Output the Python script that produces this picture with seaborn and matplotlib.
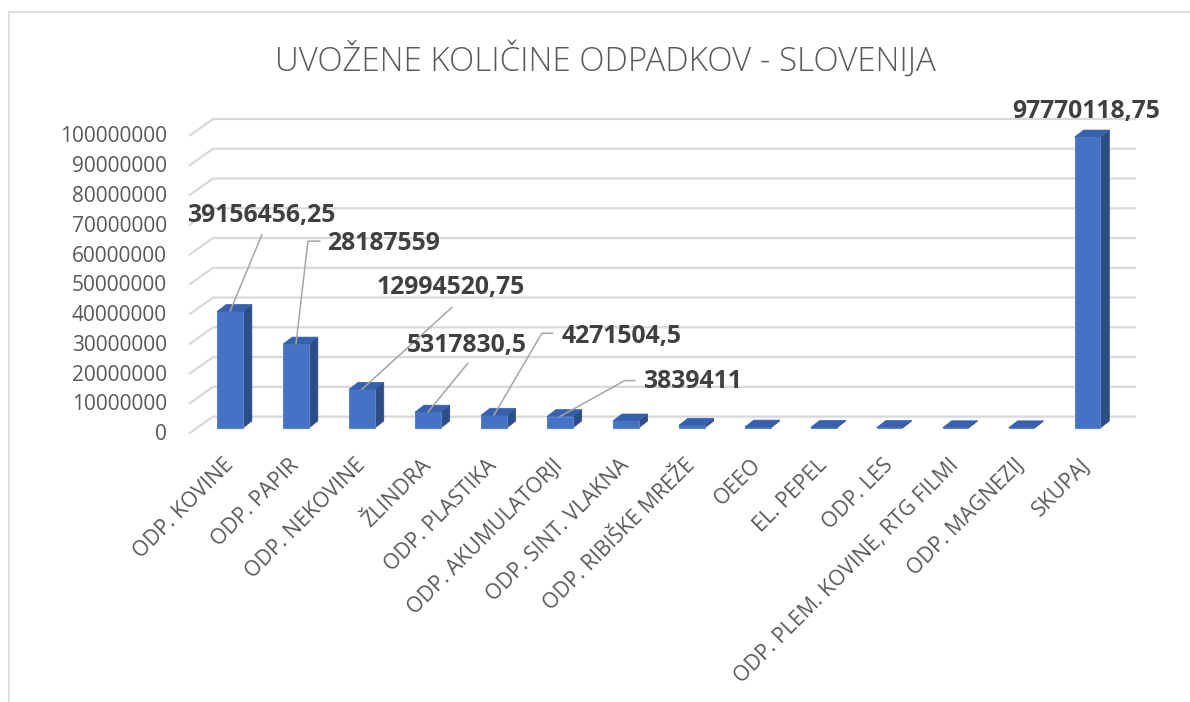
import matplotlib
matplotlib.use('Agg')
import matplotlib.pyplot as plt
import seaborn as sns
from matplotlib.patches import Polygon, Rectangle

# Data
categories = ['ODP. KOVINE', 'ODP. PAPIR', 'ODP. NEKOVINE', 'ŽLINDRA', 'ODP. PLASTIKA',
              'ODP. AKUMULATORJI', 'ODP. SINT. VLAKNA', 'ODP. RIBIŠKE MREŽE', 'OEEO',
              'EL. PEPEL', 'ODP. LES', 'ODP. PLEM. KOVINE, RTG FILMI', 'ODP. MAGNEZIJ', 'SKUPAJ']
values = [39156456.25, 28187559, 12994520.75, 5317830.5, 4271504.5, 3839411,
          2350000, 900000, 300000, 200000, 130000, 70000, 52836.75, 97770118.75]
tick_values = list(range(0, 100000001, 10000000))
title = 'UVOŽENE KOLIČINE ODPADKOV - SLOVENIJA'

# which bars get a data label: index -> text offset (px) and leader points (px)
label_layout = {
    0: ((31, 96), [(0, 0), (32, 77)]),
    1: ((88, 101), [(0, 0), (12, 103), (24, 103)]),
    2: ((89, 102), [(0, 0), (90, 82)]),
    3: ((39, 67), [(0, 0), (40, 49)]),
    4: ((128, 79), [(0, 0), (48, 82), (59, 82)]),
    5: ((133, 35), [(0, 0), (65, 36), (75, 36)]),
    13: ((-1, 26), None),
}

FRONT = '#4472C4'
SIDE = '#2C4D86'
TOP = '#3761AD'
GRID = '#D9D9D9'
TXT = '#595959'

sns.set_style('white')
plt.rcParams['font.family'] = ['Open Sans', 'DejaVu Sans']

W, H = 1190, 702
fig = plt.figure(figsize=(W / 100, H / 100), dpi=100)
L, R, T, B = 180, 1150, 100, 440
ax = fig.add_axes([L / W, 1 - B / H, (R - L) / W, (B - T) / H])

sns.barplot(x=categories, y=values, color=FRONT, saturation=1, width=0.39,
            edgecolor='#5B84D0', linewidth=0.8, ax=ax, zorder=3)

# pixel scales (first bar centre at x=230px, zero at y=428px)
XPX = 65.96
YPX = 2.976e-6
ax.set_xlim(-(230 - L) / XPX, (R - 230) / XPX)
ax.set_ylim(-(B - 428) / YPX, (428 - T) / YPX)


def px(dx, dy):
    return dx / XPX, dy / YPX


sns.despine(ax=ax, left=True, bottom=True)
ax.set_yticks([])
ax.set_ylabel('')
ax.tick_params(axis='x', length=0, pad=16)
ax.set_xticks(range(len(categories)))
ax.set_xticklabels(categories, rotation=45, ha='right', va='center',
                   rotation_mode='anchor', fontsize=15.3, color=TXT)

# 3D-like gridlines and y labels
for v in tick_values:
    xs = [(189 - 230) / XPX, (213 - 230) / XPX, (1136 - 230) / XPX]
    ys = [v - 5.6 / YPX, v + 11.4 / YPX, v + 11.4 / YPX]
    ax.plot(xs, ys, color=GRID, lw=1.6, zorder=1, clip_on=False, solid_capstyle='butt')
    ax.text((167 - 230) / XPX, v - 6.6 / YPX, str(v), ha='right', va='center',
            fontsize=15, color=TXT, clip_on=False)

# depth faces for the bars
ddx, ddy = px(9, 7)
for p in ax.patches[:len(values)]:
    x0, w, h = p.get_x(), p.get_width(), p.get_height()
    x1 = x0 + w
    ax.add_patch(Polygon([(x1, 0), (x1, h), (x1 + ddx, h + ddy), (x1 + ddx, ddy)],
                         closed=True, facecolor=SIDE, edgecolor=SIDE, lw=0.5, zorder=2.9))
    ax.add_patch(Polygon([(x0, h), (x1, h), (x1 + ddx, h + ddy), (x0 + ddx, h + ddy)],
                         closed=True, facecolor=TOP, edgecolor=TOP, lw=0.5, zorder=3.1))


def fmt(v):
    s = f'{v:.2f}'.rstrip('0').rstrip('.')
    return s.replace('.', ',')


# data labels with leader lines
for i, (toff, leader) in label_layout.items():
    v = values[i]
    tx, ty = px(*toff)
    ax.text(i + tx, v + ty, fmt(v), ha='center', va='center', fontsize=17.8,
            fontweight='bold', color='#404040', zorder=6, clip_on=False)
    if leader:
        lx = [i + a / XPX for a, b in leader]
        ly = [v + b / YPX for a, b in leader]
        ax.plot(lx, ly, color='#A6A6A6', lw=1.1, zorder=5, clip_on=False)

fig.text(605 / W, 1 - 60 / H, title, ha='center', va='center', fontsize=23.8,
         color=TXT, fontweight='light')

# chart border
fig.add_artist(Rectangle((9 / W, -0.05), 1.1, 1 - 12 / H + 0.05, transform=fig.transFigure,
                         fill=False, edgecolor=GRID, lw=1.2))

fig.savefig('out.png', dpi=100)
